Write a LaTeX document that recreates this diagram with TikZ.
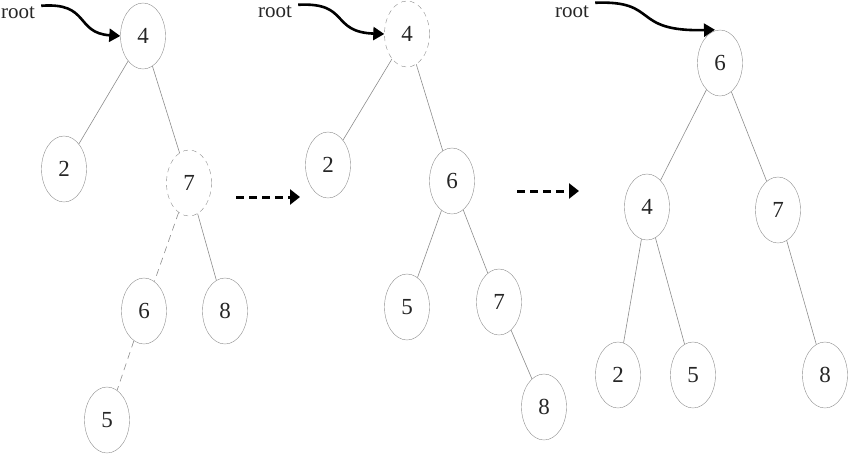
\documentclass[tikz,border=0pt]{standalone}
\usepackage{fontspec}
\setmainfont{Liberation Serif}
\usetikzlibrary{shapes.geometric,arrows.meta}
\definecolor{edgegray}{gray}{0.55}
\tikzset{
  key/.style={draw=edgegray, ellipse, minimum width=45pt, minimum height=66pt, inner sep=0pt, text=black!85, font=\fontsize{23}{27}\selectfont},
  gone/.style={key, dash pattern=on 5pt off 4pt},
  link/.style={draw=edgegray, line width=0.6pt},
  cut/.style={link, dash pattern=on 7pt off 5pt},
  rootlbl/.style={anchor=west, inner sep=1pt, text=black!85, font=\fontsize{21}{24}\selectfont},
  rootptr/.style={draw, line width=2.6pt, -{Triangle[length=11pt,width=13pt]}},
  moveptr/.style={draw, line width=3pt, dash pattern=on 8pt off 5pt, -{Triangle[length=10pt,width=15pt]}}
}
\begin{document}
\begin{tikzpicture}[x=1pt,y=-1pt]
\useasboundingbox (0,0) rectangle (849,453);

% before
\node[key] (a4) at (143,36) {4};
\node[key] (a2) at (64,169) {2};
\node[gone] (a7) at (189,183) {7};
\node[key] (a6) at (144,311) {6};
\node[key] (a8) at (225,311) {8};
\node[key] (a5) at (107,420) {5};
\node[rootlbl] (ra) at (0,13) {root};

\path[link] (a4) -- (a2);
\path[link] (a4) -- (a7);
\path[link] (a7) -- (a8);
\path[cut] (a7) -- (a6);
\path[cut] (a6) -- (a5);
\path[rootptr] ([xshift=5pt]ra.north east) .. controls (90,2) and (75,33) .. (a4.west);

% after replacing
\node[gone] (b4) at (407,34) {4};
\node[key] (b2) at (328,165) {2};
\node[key] (b6) at (452,181) {6};
\node[key] (b5) at (407,307) {5};
\node[key] (b7) at (499,302) {7};
\node[key] (b8) at (544,407) {8};
\node[rootlbl] (rb) at (257,12) {root};

\path[link] (b4) -- (b2);
\path[link] (b4) -- (b6);
\path[link] (b6) -- (b5);
\path[link] (b6) -- (b7);
\path[link] (b7) -- (b8);
\path[rootptr] ([xshift=5pt]rb.north east) .. controls (350,2) and (330,32) .. (b4.west);

% result
\node[key] (c6) at (720,63) {6};
\node[key] (c4) at (647,207) {4};
\node[key] (c7) at (778,210) {7};
\node[key] (c2) at (618,375) {2};
\node[key] (c5) at (693,375) {5};
\node[key] (c8) at (825,375) {8};
\node[rootlbl] (rc) at (554,12) {root};

\path[link] (c6) -- (c4);
\path[link] (c6) -- (c7);
\path[link] (c4) -- (c2);
\path[link] (c4) -- (c5);
\path[link] (c7) -- (c8);
\path[rootptr] ([xshift=5pt,yshift=2pt]rc.north east) .. controls (660,0) and (630,32) .. ([xshift=-5pt]c6.north);

% steps
\coordinate (s1) at (236,197);
\coordinate (e1) at (300,197);
\coordinate (s2) at (517,191);
\coordinate (e2) at (579,191);
\path[moveptr] (s1) -- (e1);
\path[moveptr] (s2) -- (e2);
\end{tikzpicture}
\end{document}
